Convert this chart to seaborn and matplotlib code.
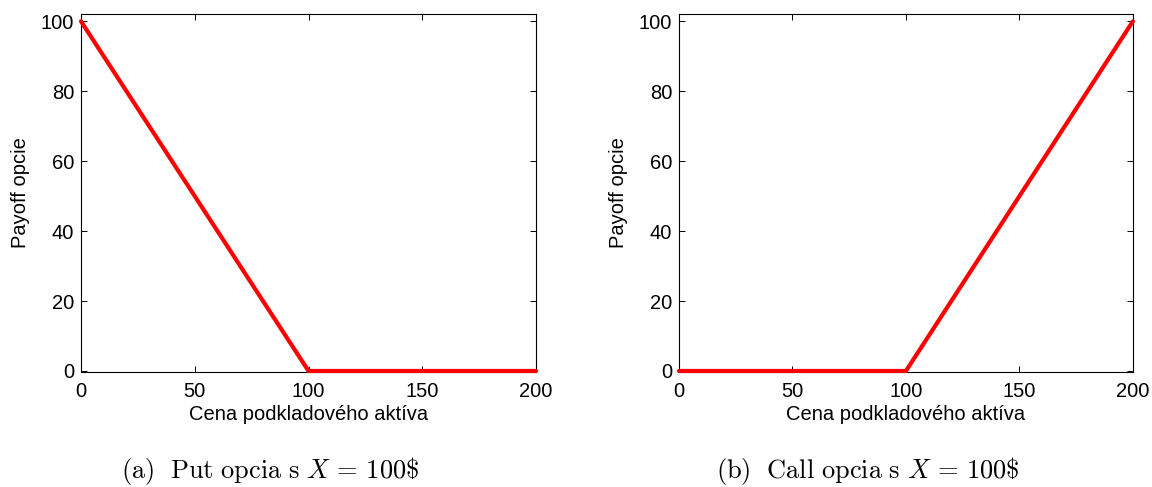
import matplotlib
matplotlib.use("Agg")
import matplotlib.pyplot as plt
import seaborn as sns
import pandas as pd

# Option payoff at expiry for strike X = 100
price = [0, 100, 200]
put_payoff = [100, 0, 0]
call_payoff = [0, 0, 100]

xticks = [0, 50, 100, 150, 200]
yticks = [0, 20, 40, 60, 80, 100]
xlabel = "Cena podkladového aktíva"
ylabel = "Payoff opcie"
captions = [r"$\mathrm{(a)\ \ Put\ opcia\ s}\ X\,=\,\mathrm{100\$}$",
            r"$\mathrm{(b)\ \ Call\ opcia\ s}\ X\,=\,\mathrm{100\$}$"]

sns.set_style("ticks")
plt.rcParams["font.family"] = ["Liberation Sans", "DejaVu Sans"]
plt.rcParams["mathtext.fontset"] = "cm"
plt.rcParams["text.color"] = "black"
plt.rcParams["axes.labelcolor"] = "black"
plt.rcParams["xtick.color"] = "black"
plt.rcParams["ytick.color"] = "black"

fig = plt.figure(figsize=(11.52, 4.87), dpi=100)
ax_put = fig.add_axes([0.0703, 0.2361, 0.3950, 0.7352])
ax_call = fig.add_axes([0.5894, 0.2361, 0.3940, 0.7352])

frames = [pd.DataFrame({"price": price, "payoff": put_payoff}),
          pd.DataFrame({"price": price, "payoff": call_payoff})]

# subfigure captions sit centred under each panel including its y label
caption_x = [0.2348, 0.7530]

for ax, df, cap, cx in zip([ax_put, ax_call], frames, captions, caption_x):
    sns.lineplot(data=df, x="price", y="payoff", ax=ax, color="#ff0000",
                 linewidth=3.0, clip_on=False, zorder=3)
    ax.set_xlim(0, 200)
    ax.set_ylim(-0.3, 102.1)
    ax.set_xticks(xticks)
    ax.set_yticks(yticks)
    ax.set_xlabel(xlabel, fontsize=14.5, labelpad=3)
    ax.set_ylabel(ylabel, fontsize=14.5, labelpad=8)
    ax.tick_params(direction="in", top=True, right=True, length=4, width=0.7,
                   labelsize=14.5, color="black")
    ax.tick_params(axis="x", pad=7)
    ax.tick_params(axis="y", pad=5)
    for s in ax.spines.values():
        s.set_visible(True)
        s.set_linewidth(0.8)
        s.set_color("black")
    fig.text(cx, 1 - 478 / 487, cap, ha="center", va="baseline", fontsize=19)

fig.savefig("out.png", dpi=100)
